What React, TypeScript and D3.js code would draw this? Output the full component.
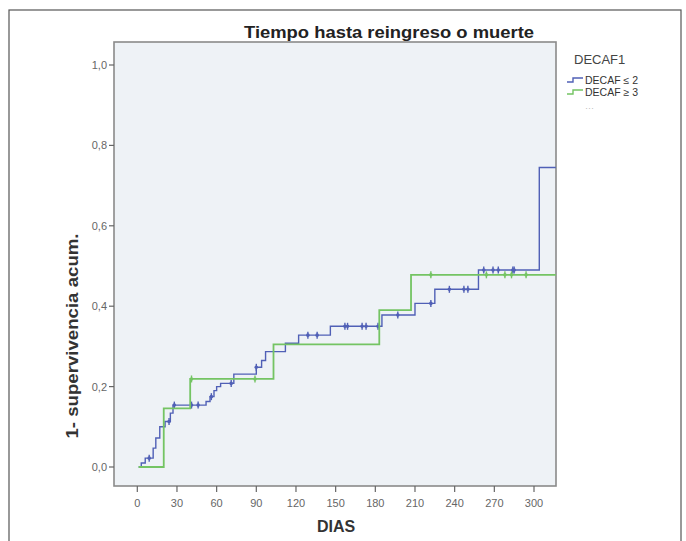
import React from "react";
import * as d3 from "d3";

// Kaplan–Meier style cumulative incidence (1 - survival) by DECAF group
const xTicks = [0, 30, 60, 90, 120, 150, 180, 210, 240, 270, 300];
const yTicks = [0, 0.2, 0.4, 0.6, 0.8, 1.0];

// DECAF ≤ 2: event times (days) and cumulative value after each event
const lowTimes = [1, 3, 6, 12, 14, 17, 21, 25, 27, 52, 55, 58, 60, 63, 73, 90, 94, 97, 112, 122, 146, 185, 210, 225, 258, 304];
const lowValues = [0, 0.01, 0.022, 0.047, 0.072, 0.1, 0.113, 0.134, 0.154, 0.163, 0.175, 0.19, 0.2, 0.208, 0.231, 0.248, 0.265, 0.287, 0.308, 0.328, 0.35, 0.378, 0.407, 0.442, 0.49, 0.745];
const lowCensored = [9, 24, 28, 41, 46, 56, 71, 90, 129, 136, 157, 159, 170, 173, 182, 197, 222, 236, 247, 250, 262, 269, 273, 284, 285];

// DECAF ≥ 3
const highTimes = [1, 20, 40, 103, 183, 207];
const highValues = [0, 0.146, 0.219, 0.305, 0.39, 0.478];
const highCensored = [41, 89, 222, 264, 278, 283, 294];

const endDay = 316.5;

const seriesNames = ["DECAF \u2264 2", "DECAF  \u2265 3"];
const colors = ["#5060b6", "#74c463"];

const W = 686;
const H = 541;
const plot = { left: 114, top: 42, right: 556, bottom: 486 };

const x = d3.scaleLinear().domain([0, 300]).range([137.3, 534]);
const y = d3.scaleLinear().domain([0, 1]).range([467, 65]);

function stepValueAt(times: number[], values: number[], t: number) {
  let v = values[0];
  for (let i = 0; i < times.length; i++) if (times[i] <= t) v = values[i];
  return v;
}

function stepPath(times: number[], values: number[]) {
  const pts: [number, number][] = times.map((t, i) => [t, values[i]]);
  pts.push([endDay, values[values.length - 1]]);
  const line = d3
    .line<[number, number]>()
    .x((d) => x(d[0]))
    .y((d) => y(d[1]))
    .curve(d3.curveStepAfter);
  return line(pts) || "";
}

const fmt = (v: number) => v.toFixed(1).replace(".", ",");

export default function App() {
  const series = [
    { times: lowTimes, values: lowValues, cens: lowCensored, color: colors[0], width: 1.4 },
    { times: highTimes, values: highValues, cens: highCensored, color: colors[1], width: 1.8 },
  ];
  const font = "'Liberation Sans', Arial, sans-serif";
  return (
    <svg
      width={W}
      height={H}
      style={{ position: "absolute", left: 0, top: 0, background: "#fff" }}
      fontFamily={font}
    >
      <rect x={9} y={10} width={672} height={540} fill="#fff" stroke="#555" strokeWidth={1.2} />
      <text
        x={389}
        y={38}
        textAnchor="middle"
        fontSize={17}
        fontWeight="bold"
        fill="#222"
        textLength={290}
        lengthAdjust="spacingAndGlyphs"
      >
        Tiempo hasta reingreso o muerte
      </text>

      <rect
        x={plot.left}
        y={plot.top}
        width={plot.right - plot.left}
        height={plot.bottom - plot.top}
        fill="#eef2f6"
        stroke="#8a8a8a"
        strokeWidth={1.6}
      />

      {yTicks.map((t) => (
        <g key={"y" + t}>
          <line x1={plot.left - 5} x2={plot.left} y1={y(t)} y2={y(t)} stroke="#666" strokeWidth={1.2} />
          <text x={plot.left - 7} y={y(t) + 4} textAnchor="end" fontSize={11} fill="#666">
            {fmt(t)}
          </text>
        </g>
      ))}
      {xTicks.map((t) => (
        <g key={"x" + t}>
          <line x1={x(t)} x2={x(t)} y1={plot.bottom} y2={plot.bottom + 6} stroke="#666" strokeWidth={1.2} />
          <text x={x(t)} y={507} textAnchor="middle" fontSize={11} fill="#666">
            {t}
          </text>
        </g>
      ))}

      <text x={336} y={532} textAnchor="middle" fontSize={16} fontWeight="bold" fill="#333">
        DIAS
      </text>
      <text
        transform={`translate(78,336) rotate(-90)`}
        textAnchor="middle"
        fontSize={16}
        fontWeight="bold"
        fill="#333"
        textLength={205}
        lengthAdjust="spacingAndGlyphs"
      >
        1- supervivencia acum.
      </text>

      {series.map((s, i) => (
        <g key={"s" + i}>
          <path d={stepPath(s.times, s.values)} fill="none" stroke={s.color} strokeWidth={s.width} />
          {s.cens.map((c, j) => {
            const cx = x(c);
            const cy = y(stepValueAt(s.times, s.values, c));
            return (
              <g key={j}>
                <line x1={cx} x2={cx} y1={cy - 3.5} y2={cy + 3.5} stroke={s.color} strokeWidth={1.4} />
                <circle cx={cx} cy={cy} r={1.8} fill={s.color} />
              </g>
            );
          })}
        </g>
      ))}

      {/* legend */}
      <text x={574} y={64} fontSize={13} fill="#444">
        DECAF1
      </text>
      {seriesNames.map((name, i) => {
        const ly = 80 + i * 12;
        return (
          <g key={"l" + i}>
            <path
              d={`M567,${ly + 2} L573,${ly + 2} L573,${ly - 2} L583,${ly - 2}`}
              fill="none"
              stroke={colors[i]}
              strokeWidth={1.4}
            />
            <text x={585} y={ly + 3.5} fontSize={10.5} fill="#333">
              {name}
            </text>
          </g>
        );
      })}
      <text x={585} y={111} fontSize={9} fill="#bbb">
        ···
      </text>
    </svg>
  );
}
